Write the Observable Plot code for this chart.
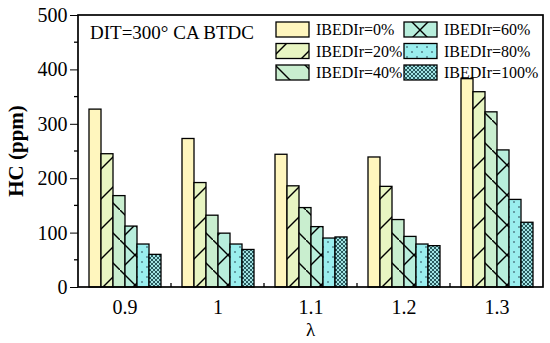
<!DOCTYPE html>
<html><head><meta charset="utf-8">
<script src="https://cdn.jsdelivr.net/npm/d3@7"></script>
<script src="https://cdn.jsdelivr.net/npm/@observablehq/plot@0.6"></script>
<style>body{margin:0;background:#fff}</style>
</head><body><div id="chart"></div>
<script>
const lambdas = ["0.9", "1", "1.1", "1.2", "1.3"];
const series = ["IBEDIr=0%", "IBEDIr=20%", "IBEDIr=40%", "IBEDIr=60%", "IBEDIr=80%", "IBEDIr=100%"];
const hc0   = [327, 273, 244, 239, 383];
const hc20  = [245, 192, 186, 185, 359];
const hc40  = [168, 132, 146, 124, 322];
const hc60  = [112, 99, 111, 93, 252];
const hc80  = [79, 79, 90, 79, 161];
const hc100 = [60, 69, 92, 76, 119];
const yTicks = [0, 100, 200, 300, 400, 500];
const yMinor = [50, 150, 250, 350, 450];

const values = [hc0, hc20, hc40, hc60, hc80, hc100];
const data = [];
lambdas.forEach((l, i) => series.forEach((s, j) => data.push({lambda: l, series: s, hc: values[j][i]})));
const fills = ["url(#p0)", "url(#p20)", "url(#p40)", "url(#p60)", "url(#p80)", "url(#p100)"];

const font = "Liberation Serif, Times New Roman, serif";
const plot = Plot.plot({
  width: 550, height: 343,
  marginLeft: 78, marginRight: 7, marginTop: 15, marginBottom: 56,
  style: {fontFamily: font, fontSize: "20px", color: "#000", background: "#fff"},
  fx: {domain: lambdas, padding: 0, label: null, tickSize: 0, tickPadding: 12},
  x: {domain: series, paddingInner: 0, paddingOuter: 0.6, axis: null},
  y: {domain: [0, 500], ticks: yTicks, tickSize: 8, tickPadding: 3, label: null},
  color: {type: "ordinal", domain: series, range: fills},
  marks: [
    Plot.barY(data, {fx: "lambda", x: "series", y: "hc", fill: "series", stroke: "#000", strokeWidth: 1.3})
  ]
});
document.getElementById("chart").appendChild(plot);

const svg = d3.select(plot);
const defs = svg.insert("defs", ":first-child");
function pat(id, bg, size, draw) {
  const p = defs.append("pattern").attr("id", id).attr("patternUnits", "userSpaceOnUse")
    .attr("width", size).attr("height", size);
  p.append("rect").attr("width", size).attr("height", size).attr("fill", bg);
  if (draw) draw(p);
}
pat("p0", "#FFF6BE", 10);
pat("p20", "#E8F5C2", 30, p => p.append("path").attr("d", "M-3,33L33,-3").attr("stroke", "#000").attr("stroke-width", 1.4));
pat("p40", "#C9EECF", 30, p => p.append("path").attr("d", "M-3,-3L33,33").attr("stroke", "#000").attr("stroke-width", 1.4));
pat("p60", "#B8EEDC", 30, p => { p.append("path").attr("d", "M-3,-3L33,33M-3,33L33,-3").attr("stroke", "#000").attr("stroke-width", 1.4); });
pat("p80", "#9AEEEE", 10, p => { p.append("circle").attr("cx", 2).attr("cy", 2).attr("r", 0.8).attr("fill", "#234"); p.append("circle").attr("cx", 7).attr("cy", 7).attr("r", 0.8).attr("fill", "#234"); });
pat("p100", "#A2E4E4", 4, p => { p.append("path").attr("d", "M0,0L4,4M0,4L4,0").attr("stroke", "#2A5A5E").attr("stroke-width", 1); });

const x0 = 78, x1 = 550 - 7, yTop = 15, yBot = 343 - 56;
const over = svg.append("g").attr("text-anchor", "start").attr("font-family", font);
// frame
over.append("rect").attr("x", x0).attr("y", yTop).attr("width", x1 - x0).attr("height", yBot - yTop)
  .attr("fill", "none").attr("stroke", "#000").attr("stroke-width", 1.7);
const y = plot.scale("y");
yMinor.forEach(v => over.append("line").attr("x1", x0 - 4).attr("x2", x0).attr("y1", y.apply(v)).attr("y2", y.apply(v)).attr("stroke", "#000").attr("stroke-width", 1.3));
const fx = plot.scale("fx");
lambdas.slice(0, -1).forEach(l => {
  const bx = fx.apply(l) + fx.bandwidth;
  over.append("line").attr("x1", bx).attr("x2", bx).attr("y1", yBot).attr("y2", yBot - 4).attr("stroke", "#000").attr("stroke-width", 1.3);
});
// axis titles
over.append("text").attr("transform", `translate(16,${(yTop + yBot) / 2}) rotate(-90)`).attr("text-anchor", "middle")
  .attr("dy", "0.35em").attr("font-weight", "bold").attr("font-size", 21).text("HC (ppm)");
over.append("text").attr("x", (x0 + x1) / 2).attr("y", 336).attr("text-anchor", "middle").attr("font-size", 19).text("λ");
// annotation
over.append("text").attr("x", 90).attr("y", 39).attr("font-size", 19).text("DIT=300° CA BTDC");
// legend
series.forEach((s, i) => {
  const col = Math.floor(i / 3), row = i % 3;
  const sx = col === 0 ? 276 : 404, sy = 22 + row * 21.5;
  over.append("rect").attr("x", sx).attr("y", sy).attr("width", 33).attr("height", 15)
    .attr("fill", fills[i]).attr("stroke", "#000").attr("stroke-width", 1.3);
  over.append("text").attr("x", sx + 40).attr("y", sy + 7.5).attr("dy", "0.35em").attr("font-size", 16).text(s);
});
</script></body></html>
